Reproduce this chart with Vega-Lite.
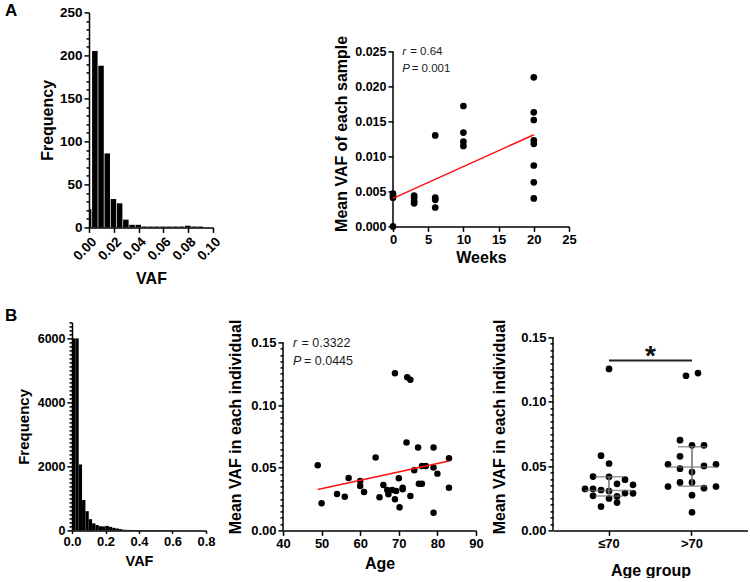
{
  "$schema": "https://vega.github.io/schema/vega-lite/v6.json",
  "padding": {"left": 5, "top": 2.4, "right": 0, "bottom": 0},
  "background": "white",
  "spacing": 20,
  "vconcat": [
    {
      "hconcat": [
        {"width": 1, "height": 1, "data": {"values": [{"s": 0}]}, "mark": {"type": "point", "opacity": 0}},
        {
          "width": 124,
          "height": 215,
          "title": {"text": "A", "anchor": "start", "frame": "group", "dx": -84, "offset": -28, "baseline": "alphabetic", "fontSize": 17},
          "data": {"values": [
            {"lo": 0, "hi": 0.0025, "n": 21},
            {"lo": 0.0025, "hi": 0.0075, "n": 205},
            {"lo": 0.0075, "hi": 0.0125, "n": 188},
            {"lo": 0.0125, "hi": 0.0175, "n": 86},
            {"lo": 0.0175, "hi": 0.0225, "n": 33},
            {"lo": 0.0225, "hi": 0.0275, "n": 28},
            {"lo": 0.0275, "hi": 0.0325, "n": 9},
            {"lo": 0.0325, "hi": 0.0375, "n": 3},
            {"lo": 0.0375, "hi": 0.0425, "n": 3},
            {"lo": 0.0425, "hi": 0.0475, "n": 1},
            {"lo": 0.0475, "hi": 0.0525, "n": 1},
            {"lo": 0.0525, "hi": 0.0575, "n": 1},
            {"lo": 0.0575, "hi": 0.0625, "n": 1},
            {"lo": 0.0625, "hi": 0.0675, "n": 1},
            {"lo": 0.0675, "hi": 0.0725, "n": 1},
            {"lo": 0.0725, "hi": 0.0775, "n": 1},
            {"lo": 0.0775, "hi": 0.0825, "n": 2},
            {"lo": 0.0825, "hi": 0.0875, "n": 1},
            {"lo": 0.0875, "hi": 0.0925, "n": 1}
          ]},
          "mark": {"type": "rect", "color": "black", "x2Offset": -0.7},
          "encoding": {
            "x": {"field": "lo", "type": "quantitative", "scale": {"domain": [0, 0.1], "nice": false, "zero": false},
                  "axis": {"values": [0, 0.02, 0.04, 0.06, 0.08, 0.1], "format": ".2f", "labelAngle": -45, "labelFontSize": 13.5, "title": "VAF", "titlePadding": 8}},
            "x2": {"field": "hi"},
            "y": {"field": "n", "type": "quantitative", "scale": {"domain": [0, 250], "nice": false},
                  "axis": {"values": [0,10,20,30,40,50,60,70,80,90,100,110,120,130,140,150,160,170,180,190,200,210,220,230,240,250],
                           "labelExpr": "datum.value % 50 === 0 ? datum.label : ''",
                           "tickSize": {"condition": {"test": "datum.value % 50 === 0", "value": 5}, "value": 3},
                           "labelFontSize": 13.5, "title": "Frequency", "titlePadding": 4}},
            "y2": {"datum": 0}
          }
        },
        {"width": 148, "height": 1, "data": {"values": [{"s": 0}]}, "mark": {"type": "point", "opacity": 0}},
        {
          "width": 176,
          "height": 214,
          "encoding": {
            "x": {"field": "w", "type": "quantitative", "scale": {"domain": [0, 25], "nice": false},
                  "axis": {"values": [0, 5, 10, 15, 20, 25], "title": "Weeks", "titlePadding": 3, "labelOverlap": false}},
            "y": {"field": "v", "type": "quantitative", "scale": {"domain": [0, 0.030571], "nice": false},
                  "axis": {"values": [0, 0.005, 0.01, 0.015, 0.02, 0.025], "format": ".3f", "domain": false, "labelOverlap": false,
                           "title": "Mean VAF of each sample", "titleY": 121, "titlePadding": 5, "labelFontSize": 12.5}}
          },
          "layer": [
            {
              "data": {"values": [
                {"w": 0, "v": 0.0047}, {"w": 0, "v": 0.0044}, {"w": 0, "v": 0.0041}, {"w": 0, "v": 0.0},
                {"w": 3, "v": 0.0044}, {"w": 3, "v": 0.0041}, {"w": 3, "v": 0.0036}, {"w": 3, "v": 0.0033},
                {"w": 6, "v": 0.0130}, {"w": 6, "v": 0.0041}, {"w": 6, "v": 0.0038}, {"w": 6, "v": 0.0027},
                {"w": 10, "v": 0.0172}, {"w": 10, "v": 0.0134}, {"w": 10, "v": 0.0121}, {"w": 10, "v": 0.0115},
                {"w": 20, "v": 0.0213}, {"w": 20, "v": 0.0163}, {"w": 20, "v": 0.0152}, {"w": 20, "v": 0.0123},
                {"w": 20, "v": 0.0118}, {"w": 20, "v": 0.0087}, {"w": 20, "v": 0.0063}, {"w": 20, "v": 0.0040}
              ]},
              "mark": {"type": "circle", "size": 45, "color": "black", "opacity": 1}
            },
            {
              "data": {"values": [{"w": 0, "v": 0, "v2": 0.025}]},
              "mark": {"type": "rule", "color": "black", "strokeWidth": 1.5},
              "encoding": {"y2": {"field": "v2"}}
            },
            {
              "data": {"values": [{"w": 0, "v": 0.0040}, {"w": 20, "v": 0.0131}]},
              "mark": {"type": "line", "color": "#ff1010", "strokeWidth": 1.5}
            },
            {
              "data": {"values": [{"w": 1.3, "v": 0.02486, "t": "r"}, {"w": 1.3, "v": 0.02243, "t": "P"}]},
              "mark": {"type": "text", "align": "left", "baseline": "middle", "fontStyle": "italic", "fontSize": 11.5, "color": "#1a1a1a", "font": "Liberation Sans"},
              "encoding": {"text": {"field": "t"}}
            },
            {
              "data": {"values": [{"w": 1.3, "v": 0.02486, "t": "= 0.64"}]},
              "mark": {"type": "text", "align": "left", "baseline": "middle", "fontSize": 11.5, "dx": 8, "color": "#1a1a1a", "font": "Liberation Sans"},
              "encoding": {"text": {"field": "t"}}
            },
            {
              "data": {"values": [{"w": 1.3, "v": 0.02243, "t": "= 0.001"}]},
              "mark": {"type": "text", "align": "left", "baseline": "middle", "fontSize": 11.5, "dx": 9.5, "color": "#1a1a1a", "font": "Liberation Sans"},
              "encoding": {"text": {"field": "t"}}
            }
          ]
        }
      ],
      "spacing": 16,
      "bounds": "flush"
    },
    {
      "hconcat": [
        {
          "width": 134,
          "height": 208,
          "title": {"text": "B", "anchor": "start", "frame": "group", "dx": -67, "offset": -22, "baseline": "alphabetic", "fontSize": 17},
          "data": {"values": [
            {"lo": 0, "hi": 0.02, "n": 6000},
            {"lo": 0.02, "hi": 0.04, "n": 6000},
            {"lo": 0.04, "hi": 0.06, "n": 2060},
            {"lo": 0.06, "hi": 0.08, "n": 950},
            {"lo": 0.08, "hi": 0.10, "n": 600},
            {"lo": 0.10, "hi": 0.12, "n": 350},
            {"lo": 0.12, "hi": 0.14, "n": 220},
            {"lo": 0.14, "hi": 0.16, "n": 165},
            {"lo": 0.16, "hi": 0.18, "n": 130},
            {"lo": 0.18, "hi": 0.20, "n": 125},
            {"lo": 0.20, "hi": 0.22, "n": 140},
            {"lo": 0.22, "hi": 0.24, "n": 110},
            {"lo": 0.24, "hi": 0.26, "n": 80},
            {"lo": 0.26, "hi": 0.28, "n": 60},
            {"lo": 0.28, "hi": 0.30, "n": 40},
            {"lo": 0.30, "hi": 0.32, "n": 22},
            {"lo": 0.32, "hi": 0.34, "n": 16},
            {"lo": 0.34, "hi": 0.36, "n": 14},
            {"lo": 0.36, "hi": 0.38, "n": 13},
            {"lo": 0.38, "hi": 0.40, "n": 12},
            {"lo": 0.40, "hi": 0.42, "n": 12},
            {"lo": 0.42, "hi": 0.44, "n": 11},
            {"lo": 0.44, "hi": 0.46, "n": 10},
            {"lo": 0.46, "hi": 0.48, "n": 10},
            {"lo": 0.48, "hi": 0.50, "n": 10},
            {"lo": 0.50, "hi": 0.52, "n": 9},
            {"lo": 0.52, "hi": 0.54, "n": 9},
            {"lo": 0.54, "hi": 0.56, "n": 8},
            {"lo": 0.56, "hi": 0.58, "n": 8},
            {"lo": 0.58, "hi": 0.60, "n": 8}
          ]},
          "mark": {"type": "rect", "color": "black"},
          "encoding": {
            "x": {"field": "lo", "type": "quantitative", "scale": {"domain": [0, 0.8], "nice": false, "zero": false},
                  "axis": {"values": [0, 0.2, 0.4, 0.6, 0.8], "format": ".1f", "title": "VAF", "titleFontSize": 14.5, "titlePadding": 6, "labelFontSize": 13, "labelOverlap": false, "tickSize": 3, "labelPadding": 2}},
            "x2": {"field": "hi"},
            "y": {"field": "n", "type": "quantitative", "scale": {"domain": [0, 6500], "nice": false},
                  "axis": {"values": [0,125,250,375,500,625,750,875,1000,1125,1250,1375,1500,1625,1750,1875,2000,2125,2250,2375,2500,2625,2750,2875,3000,3125,3250,3375,3500,3625,3750,3875,4000,4125,4250,4375,4500,4625,4750,4875,5000,5125,5250,5375,5500,5625,5750,5875,6000,6125,6250,6375,6500],
                           "format": "d",
                           "labelExpr": "datum.value % 2000 === 0 ? datum.label : ''",
                           "tickSize": {"condition": {"test": "datum.value % 2000 === 0", "value": 5}, "value": 3},
                           "labelFontSize": 12.5, "title": "Frequency", "titleFontSize": 15, "titlePadding": 6}},
            "y2": {"datum": 0}
          }
        },
        {
          "width": 193,
          "height": 208,
          "encoding": {
            "x": {"field": "a", "type": "quantitative", "scale": {"domain": [40, 90], "nice": false, "zero": false},
                  "axis": {"values": [40, 50, 60, 70, 80, 90], "title": "Age", "titlePadding": 5, "labelOverlap": false}},
            "y": {"field": "v", "type": "quantitative", "scale": {"domain": [0, 0.166], "nice": false},
                  "axis": {"values": [0,0.005,0.01,0.015,0.02,0.025,0.03,0.035,0.04,0.045,0.05,0.055,0.06,0.065,0.07,0.075,0.08,0.085,0.09,0.095,0.1,0.105,0.11,0.115,0.12,0.125,0.13,0.135,0.14,0.145,0.15],
                           "format": ".2f", "domain": false, "labelOverlap": false,
                           "labelExpr": "abs(datum.value*20 - round(datum.value*20)) < 0.000001 ? datum.label : ''",
                           "tickSize": {"condition": {"test": "abs(datum.value*20 - round(datum.value*20)) < 0.000001", "value": 5}, "value": 3},
                           "title": "Mean VAF in each individual", "titlePadding": 7}}
          },
          "layer": [
            {
              "data": {"values": [
                {"a": 49, "v": 0.0520}, {"a": 50, "v": 0.0216}, {"a": 54, "v": 0.0290}, {"a": 56, "v": 0.0269},
                {"a": 57, "v": 0.0418}, {"a": 60, "v": 0.0394}, {"a": 60, "v": 0.0354}, {"a": 61, "v": 0.0306},
                {"a": 64, "v": 0.0581}, {"a": 65, "v": 0.0264}, {"a": 66, "v": 0.0362}, {"a": 67, "v": 0.0322},
                {"a": 67.3, "v": 0.0288}, {"a": 68.3, "v": 0.0322}, {"a": 69, "v": 0.1255}, {"a": 69, "v": 0.0248},
                {"a": 69.3, "v": 0.0314}, {"a": 70, "v": 0.0416}, {"a": 70.2, "v": 0.0184}, {"a": 71, "v": 0.0341},
                {"a": 71, "v": 0.0328}, {"a": 72, "v": 0.0701}, {"a": 72.2, "v": 0.1223}, {"a": 73, "v": 0.1202},
                {"a": 73, "v": 0.0274}, {"a": 74, "v": 0.0480}, {"a": 75, "v": 0.0661}, {"a": 75.2, "v": 0.0373},
                {"a": 76, "v": 0.0514}, {"a": 76, "v": 0.0373}, {"a": 77, "v": 0.0514}, {"a": 79, "v": 0.0661},
                {"a": 79, "v": 0.0501}, {"a": 79, "v": 0.0141}, {"a": 80, "v": 0.0453}, {"a": 83, "v": 0.0576},
                {"a": 83, "v": 0.0341}
              ]},
              "mark": {"type": "circle", "size": 42, "color": "black", "opacity": 1}
            },
            {
              "data": {"values": [{"a": 40, "v": 0, "v2": 0.15}]},
              "mark": {"type": "rule", "color": "black", "strokeWidth": 1.5},
              "encoding": {"y2": {"field": "v2"}}
            },
            {
              "data": {"values": [{"a": 49, "v": 0.0326}, {"a": 83, "v": 0.0553}]},
              "mark": {"type": "line", "color": "#ff1010", "strokeWidth": 1.5}
            },
            {
              "data": {"values": [{"a": 42.6, "v": 0.1492, "t": "r"}, {"a": 42.6, "v": 0.1349, "t": "P"}]},
              "mark": {"type": "text", "align": "left", "baseline": "middle", "fontStyle": "italic", "fontSize": 12.5, "color": "#1a1a1a", "font": "Liberation Sans"},
              "encoding": {"text": {"field": "t"}}
            },
            {
              "data": {"values": [{"a": 42.6, "v": 0.1492, "t": "= 0.3322"}]},
              "mark": {"type": "text", "align": "left", "baseline": "middle", "fontSize": 12.5, "dx": 8.5, "color": "#1a1a1a", "font": "Liberation Sans"},
              "encoding": {"text": {"field": "t"}}
            },
            {
              "data": {"values": [{"a": 42.6, "v": 0.1349, "t": "= 0.0445"}]},
              "mark": {"type": "text", "align": "left", "baseline": "middle", "fontSize": 12.5, "dx": 11, "color": "#1a1a1a", "font": "Liberation Sans"},
              "encoding": {"text": {"field": "t"}}
            }
          ]
        },
        {
          "width": 195,
          "height": 208,
          "encoding": {
            "x": {"field": "g", "type": "nominal", "scale": {"domain": ["≤70", ">70"], "paddingInner": 0, "paddingOuter": 0.175},
                  "axis": {"title": "Age group", "labelAngle": 0, "titlePadding": 12}},
            "y": {"field": "v", "type": "quantitative", "scale": {"domain": [0, 0.16166], "nice": false},
                  "axis": {"values": [0,0.005,0.01,0.015,0.02,0.025,0.03,0.035,0.04,0.045,0.05,0.055,0.06,0.065,0.07,0.075,0.08,0.085,0.09,0.095,0.1,0.105,0.11,0.115,0.12,0.125,0.13,0.135,0.14,0.145,0.15],
                           "format": ".2f", "domain": false, "labelOverlap": false,
                           "labelExpr": "abs(datum.value*20 - round(datum.value*20)) < 0.000001 ? datum.label : ''",
                           "tickSize": {"condition": {"test": "abs(datum.value*20 - round(datum.value*20)) < 0.000001", "value": 5}, "value": 3},
                           "title": "Mean VAF in each individual", "titlePadding": 13}}
          },
          "layer": [
            {
              "data": {"values": [
                {"g": "≤70", "v": 0.1255, "j": 0}, {"g": "≤70", "v": 0.0581, "j": -1}, {"g": "≤70", "v": 0.0520, "j": 0},
                {"g": "≤70", "v": 0.0418, "j": -2}, {"g": "≤70", "v": 0.0416, "j": 0}, {"g": "≤70", "v": 0.0394, "j": 2},
                {"g": "≤70", "v": 0.0362, "j": 1}, {"g": "≤70", "v": 0.0354, "j": 3}, {"g": "≤70", "v": 0.0322, "j": -3},
                {"g": "≤70", "v": 0.0322, "j": -2}, {"g": "≤70", "v": 0.0314, "j": -1}, {"g": "≤70", "v": 0.0306, "j": 0},
                {"g": "≤70", "v": 0.0290, "j": 2}, {"g": "≤70", "v": 0.0288, "j": 3}, {"g": "≤70", "v": 0.0269, "j": -2},
                {"g": "≤70", "v": 0.0264, "j": 1}, {"g": "≤70", "v": 0.0248, "j": 0}, {"g": "≤70", "v": 0.0216, "j": 1},
                {"g": "≤70", "v": 0.0184, "j": -1},
                {"g": ">70", "v": 0.1202, "j": -0.75}, {"g": ">70", "v": 0.1223, "j": 0.75}, {"g": ">70", "v": 0.0701, "j": -1.5},
                {"g": ">70", "v": 0.0661, "j": 0}, {"g": ">70", "v": 0.0661, "j": 1.5}, {"g": ">70", "v": 0.0576, "j": -1.5},
                {"g": ">70", "v": 0.0514, "j": -3}, {"g": ">70", "v": 0.0514, "j": 3}, {"g": ">70", "v": 0.0501, "j": 1.5},
                {"g": ">70", "v": 0.0480, "j": -1.5}, {"g": ">70", "v": 0.0453, "j": 0}, {"g": ">70", "v": 0.0373, "j": -1.5},
                {"g": ">70", "v": 0.0373, "j": 0}, {"g": ">70", "v": 0.0341, "j": -3}, {"g": ">70", "v": 0.0341, "j": 3},
                {"g": ">70", "v": 0.0328, "j": 1.5}, {"g": ">70", "v": 0.0274, "j": 0}, {"g": ">70", "v": 0.0141, "j": 0}
              ]},
              "mark": {"type": "circle", "size": 45, "color": "black", "opacity": 1},
              "encoding": {
                "xOffset": {"field": "j", "type": "quantitative", "scale": {"domain": [-5, 5], "range": [1.5, 81.5]}}
              }
            },
            {
              "data": {"values": [{"g": "≤70", "v": 0, "v2": 0.15}]},
              "mark": {"type": "rule", "color": "black", "strokeWidth": 1.5},
              "encoding": {"x": {"value": 0}, "y2": {"field": "v2"}}
            },
            {
              "data": {"values": [
                {"g": "≤70", "v": 0.0310, "k": "med"}, {"g": ">70", "v": 0.0492, "k": "med"},
                {"g": "≤70", "v": 0.0267, "k": "q"}, {"g": "≤70", "v": 0.0417, "k": "q"},
                {"g": ">70", "v": 0.0344, "k": "q"}, {"g": ">70", "v": 0.0650, "k": "q"}
              ]},
              "transform": [{"filter": "datum.k === 'med'"}],
              "mark": {"type": "tick", "orient": "horizontal", "size": 48, "thickness": 1.5, "color": "#6e6e6e"}
            },
            {
              "data": {"values": [
                {"g": "≤70", "v": 0.0310, "k": "med"}, {"g": ">70", "v": 0.0492, "k": "med"},
                {"g": "≤70", "v": 0.0267, "k": "q"}, {"g": "≤70", "v": 0.0417, "k": "q"},
                {"g": ">70", "v": 0.0344, "k": "q"}, {"g": ">70", "v": 0.0650, "k": "q"}
              ]},
              "transform": [{"filter": "datum.k === 'q'"}],
              "mark": {"type": "tick", "orient": "horizontal", "size": 28, "thickness": 1.5, "color": "#6e6e6e"}
            },
            {
              "data": {"values": [{"g": "≤70", "v": 0.0267, "v2": 0.0417}, {"g": ">70", "v": 0.0344, "v2": 0.0650}]},
              "mark": {"type": "rule", "strokeWidth": 1.5, "color": "#6e6e6e"},
              "encoding": {"y2": {"field": "v2"}}
            },
            {
              "data": {"values": [{"g": "≤70", "v": 0.1321}, {"g": ">70", "v": 0.1321}]},
              "mark": {"type": "line", "strokeWidth": 2, "color": "#222222"}
            },
            {
              "data": {"values": [{"g": "≤70", "v": 0.1321, "t": "*"}]},
              "mark": {"type": "text", "align": "center", "baseline": "alphabetic", "fontSize": 28, "fontWeight": "bold", "dx": 41.5, "dy": 5, "color": "#111111", "font": "Liberation Sans"},
              "encoding": {"text": {"field": "t"}}
            }
          ]
        }
      ],
      "spacing": 77,
      "bounds": "flush"
    }
  ],
  "config": {
    "font": "Liberation Sans",
    "view": {"stroke": null},
    "axis": {
      "domainColor": "black", "domainWidth": 1.5, "tickColor": "black", "tickWidth": 1.5, "tickSize": 5,
      "labelFont": "Liberation Sans", "labelFontWeight": "bold", "labelFontSize": 13, "labelColor": "black", "labelPadding": 2,
      "titleFont": "Liberation Sans", "titleFontWeight": "bold", "titleFontSize": 16, "titleColor": "black", "titlePadding": 5,
      "grid": false, "labelOverlap": false, "labelFlush": false
    },
    "title": {"font": "Liberation Sans", "fontWeight": "bold", "fontSize": 17, "color": "black"}
  }
}
